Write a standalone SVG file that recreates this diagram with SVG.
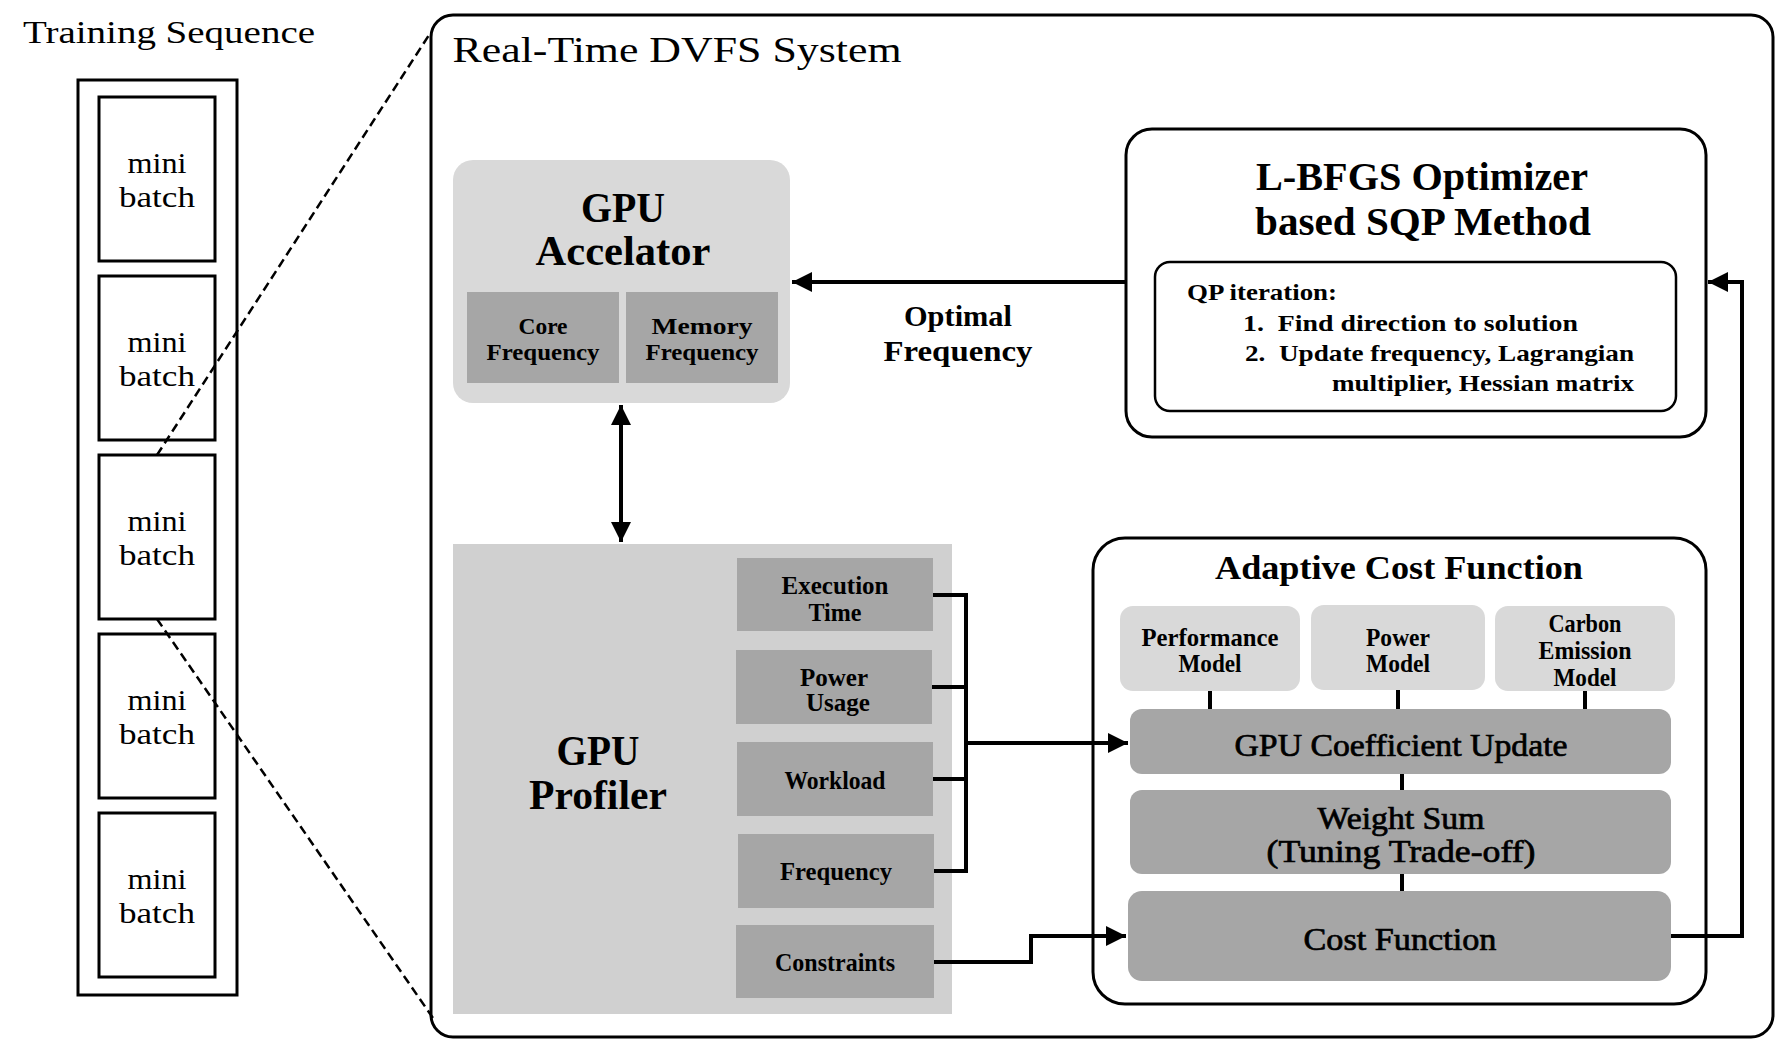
<svg xmlns="http://www.w3.org/2000/svg" width="1777" height="1040" viewBox="0 0 1777 1040">
<defs>
<marker id="ah" viewBox="0 0 10 10" refX="10" refY="5" markerWidth="5" markerHeight="5" markerUnits="strokeWidth" orient="auto-start-reverse">
<path d="M0,0 L10,5 L0,10 z" fill="#000"/>
</marker>
</defs>
<style>
text{font-family:"Liberation Serif","Times New Roman",serif;fill:#000;text-anchor:middle}
.reg{font-weight:normal}
.b{font-weight:bold}
.med{font-weight:normal;stroke:#000;stroke-width:0.7}
.seq{fill:#fff;stroke:#000;stroke-width:3}
.frame{fill:#fff;stroke:#000;stroke-width:3}
.acc{fill:#d9d9d9}
.prof{fill:#d0d0d0}
.item{fill:#a6a6a6}
.model{fill:#d9d9d9}
.bar{fill:#a6a6a6}
.conn{fill:none;stroke:#000;stroke-width:4}
.dash{fill:none;stroke:#000;stroke-width:2.5;stroke-dasharray:9 5}
</style>
<rect width="1777" height="1040" fill="#fff"/>

<g id="training-sequence">
<text class="reg" x="169" y="43" font-size="31" textLength="292" lengthAdjust="spacingAndGlyphs">Training Sequence</text>
<rect class="seq" x="78" y="80" width="159" height="915"/>
</g>
<g id="mb1"><rect class="seq" x="99" y="97" width="116" height="164"/><text class="reg" x="157" y="173" font-size="29" textLength="59" lengthAdjust="spacingAndGlyphs">mini</text><text class="reg" x="157" y="207" font-size="29" textLength="76" lengthAdjust="spacingAndGlyphs">batch</text></g>
<g id="mb2"><rect class="seq" x="99" y="276" width="116" height="164"/><text class="reg" x="157" y="352" font-size="29" textLength="59" lengthAdjust="spacingAndGlyphs">mini</text><text class="reg" x="157" y="386" font-size="29" textLength="76" lengthAdjust="spacingAndGlyphs">batch</text></g>
<g id="mb3"><rect class="seq" x="99" y="455" width="116" height="164"/><text class="reg" x="157" y="531" font-size="29" textLength="59" lengthAdjust="spacingAndGlyphs">mini</text><text class="reg" x="157" y="565" font-size="29" textLength="76" lengthAdjust="spacingAndGlyphs">batch</text></g>
<g id="mb4"><rect class="seq" x="99" y="634" width="116" height="164"/><text class="reg" x="157" y="710" font-size="29" textLength="59" lengthAdjust="spacingAndGlyphs">mini</text><text class="reg" x="157" y="744" font-size="29" textLength="76" lengthAdjust="spacingAndGlyphs">batch</text></g>
<g id="mb5"><rect class="seq" x="99" y="813" width="116" height="164"/><text class="reg" x="157" y="889" font-size="29" textLength="59" lengthAdjust="spacingAndGlyphs">mini</text><text class="reg" x="157" y="923" font-size="29" textLength="76" lengthAdjust="spacingAndGlyphs">batch</text></g>

<g id="dvfs-system">
<rect class="frame" x="431" y="15" width="1342" height="1022" rx="22"/>
<text class="reg" x="677" y="62" font-size="36" textLength="449" lengthAdjust="spacingAndGlyphs">Real-Time DVFS System</text>
</g>

<g id="gpu-accelerator">
<rect class="acc" x="453" y="160" width="337" height="243" rx="20"/>
<text class="b" x="623" y="222" font-size="43" textLength="84" lengthAdjust="spacingAndGlyphs">GPU</text>
<text class="b" x="623" y="265" font-size="43" textLength="175" lengthAdjust="spacingAndGlyphs">Accelator</text>
<rect class="item" x="467" y="292" width="152" height="91"/>
<text class="b" x="543" y="334" font-size="24" textLength="49" lengthAdjust="spacingAndGlyphs">Core</text>
<text class="b" x="543" y="360" font-size="24" textLength="113" lengthAdjust="spacingAndGlyphs">Frequency</text>
<rect class="item" x="626" y="292" width="152" height="91"/>
<text class="b" x="702" y="334" font-size="24" textLength="101" lengthAdjust="spacingAndGlyphs">Memory</text>
<text class="b" x="702" y="360" font-size="24" textLength="113" lengthAdjust="spacingAndGlyphs">Frequency</text>
</g>

<g id="optimal-frequency-label">
<text class="b" x="958" y="326" font-size="29" textLength="108" lengthAdjust="spacingAndGlyphs">Optimal</text>
<text class="b" x="958" y="361" font-size="29" textLength="149" lengthAdjust="spacingAndGlyphs">Frequency</text>
</g>

<g id="lbfgs-optimizer">
<rect class="frame" x="1126" y="129" width="580" height="308" rx="26"/>
<text class="b" x="1422" y="190" font-size="40" textLength="332" lengthAdjust="spacingAndGlyphs">L-BFGS Optimizer</text>
<text class="b" x="1423" y="235" font-size="40" textLength="336" lengthAdjust="spacingAndGlyphs">based SQP Method</text>
<rect x="1155" y="262" width="521" height="149" rx="15" fill="#fff" stroke="#000" stroke-width="2.5"/>
<text class="b" x="1262" y="300" font-size="24" textLength="150" lengthAdjust="spacingAndGlyphs">QP iteration:</text>
<text class="b" x="1410.5" y="331" font-size="24" textLength="335" lengthAdjust="spacingAndGlyphs" xml:space="preserve">1.  Find direction to solution</text>
<text class="b" x="1439.5" y="361" font-size="24" textLength="389" lengthAdjust="spacingAndGlyphs" xml:space="preserve">2.  Update frequency, Lagrangian</text>
<text class="b" x="1483" y="391" font-size="24" textLength="302" lengthAdjust="spacingAndGlyphs">multiplier, Hessian matrix</text>
</g>

<g id="gpu-profiler">
<rect class="prof" x="453" y="544" width="499" height="470"/>
<text class="b" x="598" y="765" font-size="43" textLength="83" lengthAdjust="spacingAndGlyphs">GPU</text>
<text class="b" x="598" y="809" font-size="43" textLength="138" lengthAdjust="spacingAndGlyphs">Profiler</text>
</g>
<g id="execution-time">
<rect class="item" x="737" y="558" width="196" height="73"/>
<text class="b" x="835" y="594" font-size="25" textLength="107" lengthAdjust="spacingAndGlyphs">Execution</text>
<text class="b" x="835" y="621" font-size="25" textLength="53" lengthAdjust="spacingAndGlyphs">Time</text>
</g>
<g id="power-usage">
<rect class="item" x="736" y="650" width="196" height="74"/>
<text class="b" x="834" y="686" font-size="25" textLength="68" lengthAdjust="spacingAndGlyphs">Power</text>
<text class="b" x="838" y="711" font-size="25" textLength="64" lengthAdjust="spacingAndGlyphs">Usage</text>
</g>
<g id="workload">
<rect class="item" x="737" y="742" width="196" height="74"/>
<text class="b" x="835" y="789" font-size="25" textLength="101" lengthAdjust="spacingAndGlyphs">Workload</text>
</g>
<g id="frequency">
<rect class="item" x="738" y="834" width="196" height="74"/>
<text class="b" x="836" y="880" font-size="25" textLength="112" lengthAdjust="spacingAndGlyphs">Frequency</text>
</g>
<g id="constraints">
<rect class="item" x="736" y="925" width="198" height="73"/>
<text class="b" x="835" y="971" font-size="25" textLength="120" lengthAdjust="spacingAndGlyphs">Constraints</text>
</g>

<g id="adaptive-cost-function">
<rect class="frame" x="1093" y="538" width="613" height="466" rx="32"/>
<text class="b" x="1399" y="579" font-size="34" textLength="368" lengthAdjust="spacingAndGlyphs">Adaptive Cost Function</text>
</g>
<g id="performance-model">
<rect class="model" x="1120" y="606" width="180" height="85" rx="13"/>
<text class="b" x="1210" y="646" font-size="25" textLength="137" lengthAdjust="spacingAndGlyphs">Performance</text>
<text class="b" x="1210" y="672" font-size="25" textLength="63" lengthAdjust="spacingAndGlyphs">Model</text>
</g>
<g id="power-model">
<rect class="model" x="1311" y="605" width="174" height="85" rx="13"/>
<text class="b" x="1398" y="646" font-size="25" textLength="64" lengthAdjust="spacingAndGlyphs">Power</text>
<text class="b" x="1398" y="672" font-size="25" textLength="64" lengthAdjust="spacingAndGlyphs">Model</text>
</g>
<g id="carbon-emission-model">
<rect class="model" x="1495" y="606" width="180" height="85" rx="13"/>
<text class="b" x="1585" y="632" font-size="25" textLength="73" lengthAdjust="spacingAndGlyphs">Carbon</text>
<text class="b" x="1585" y="659" font-size="25" textLength="93" lengthAdjust="spacingAndGlyphs">Emission</text>
<text class="b" x="1585" y="686" font-size="25" textLength="63" lengthAdjust="spacingAndGlyphs">Model</text>
</g>
<g id="gpu-coefficient-update">
<rect class="bar" x="1130" y="709" width="541" height="65" rx="12"/>
<text class="med" x="1401" y="756" font-size="31" textLength="333" lengthAdjust="spacingAndGlyphs">GPU Coefficient Update</text>
</g>
<g id="weight-sum">
<rect class="bar" x="1130" y="790" width="541" height="84" rx="12"/>
<text class="med" x="1401" y="829" font-size="31" textLength="167" lengthAdjust="spacingAndGlyphs">Weight Sum</text>
<text class="med" x="1401" y="862" font-size="31" textLength="269" lengthAdjust="spacingAndGlyphs">(Tuning Trade-off)</text>
</g>
<g id="cost-function">
<rect class="bar" x="1128" y="891" width="543" height="90" rx="14"/>
<text class="med" x="1400" y="950" font-size="31" textLength="193" lengthAdjust="spacingAndGlyphs">Cost Function</text>
</g>

<g id="connectors">
<line class="dash" x1="157" y1="455" x2="431" y2="32"/>
<line class="dash" x1="157" y1="619" x2="433" y2="1018"/>
<line class="conn" x1="1126" y1="282" x2="792" y2="282" marker-end="url(#ah)"/>
<line class="conn" x1="621" y1="405" x2="621" y2="542" marker-start="url(#ah)" marker-end="url(#ah)"/>
<path class="conn" d="M933,595 H966 V871 H934 M932,687 H966 M933,779 H966"/>
<line class="conn" x1="966" y1="743" x2="1128" y2="743" marker-end="url(#ah)"/>
<path class="conn" d="M934,962 H1031 V936 H1126" marker-end="url(#ah)"/>
<path class="conn" d="M1671,936 H1742 V282 H1708" marker-end="url(#ah)"/>
<path class="conn" d="M1210,691 V709 M1398,690 V709 M1585,691 V709 M1402,774 V790 M1402,874 V891"/>
</g>
</svg>
